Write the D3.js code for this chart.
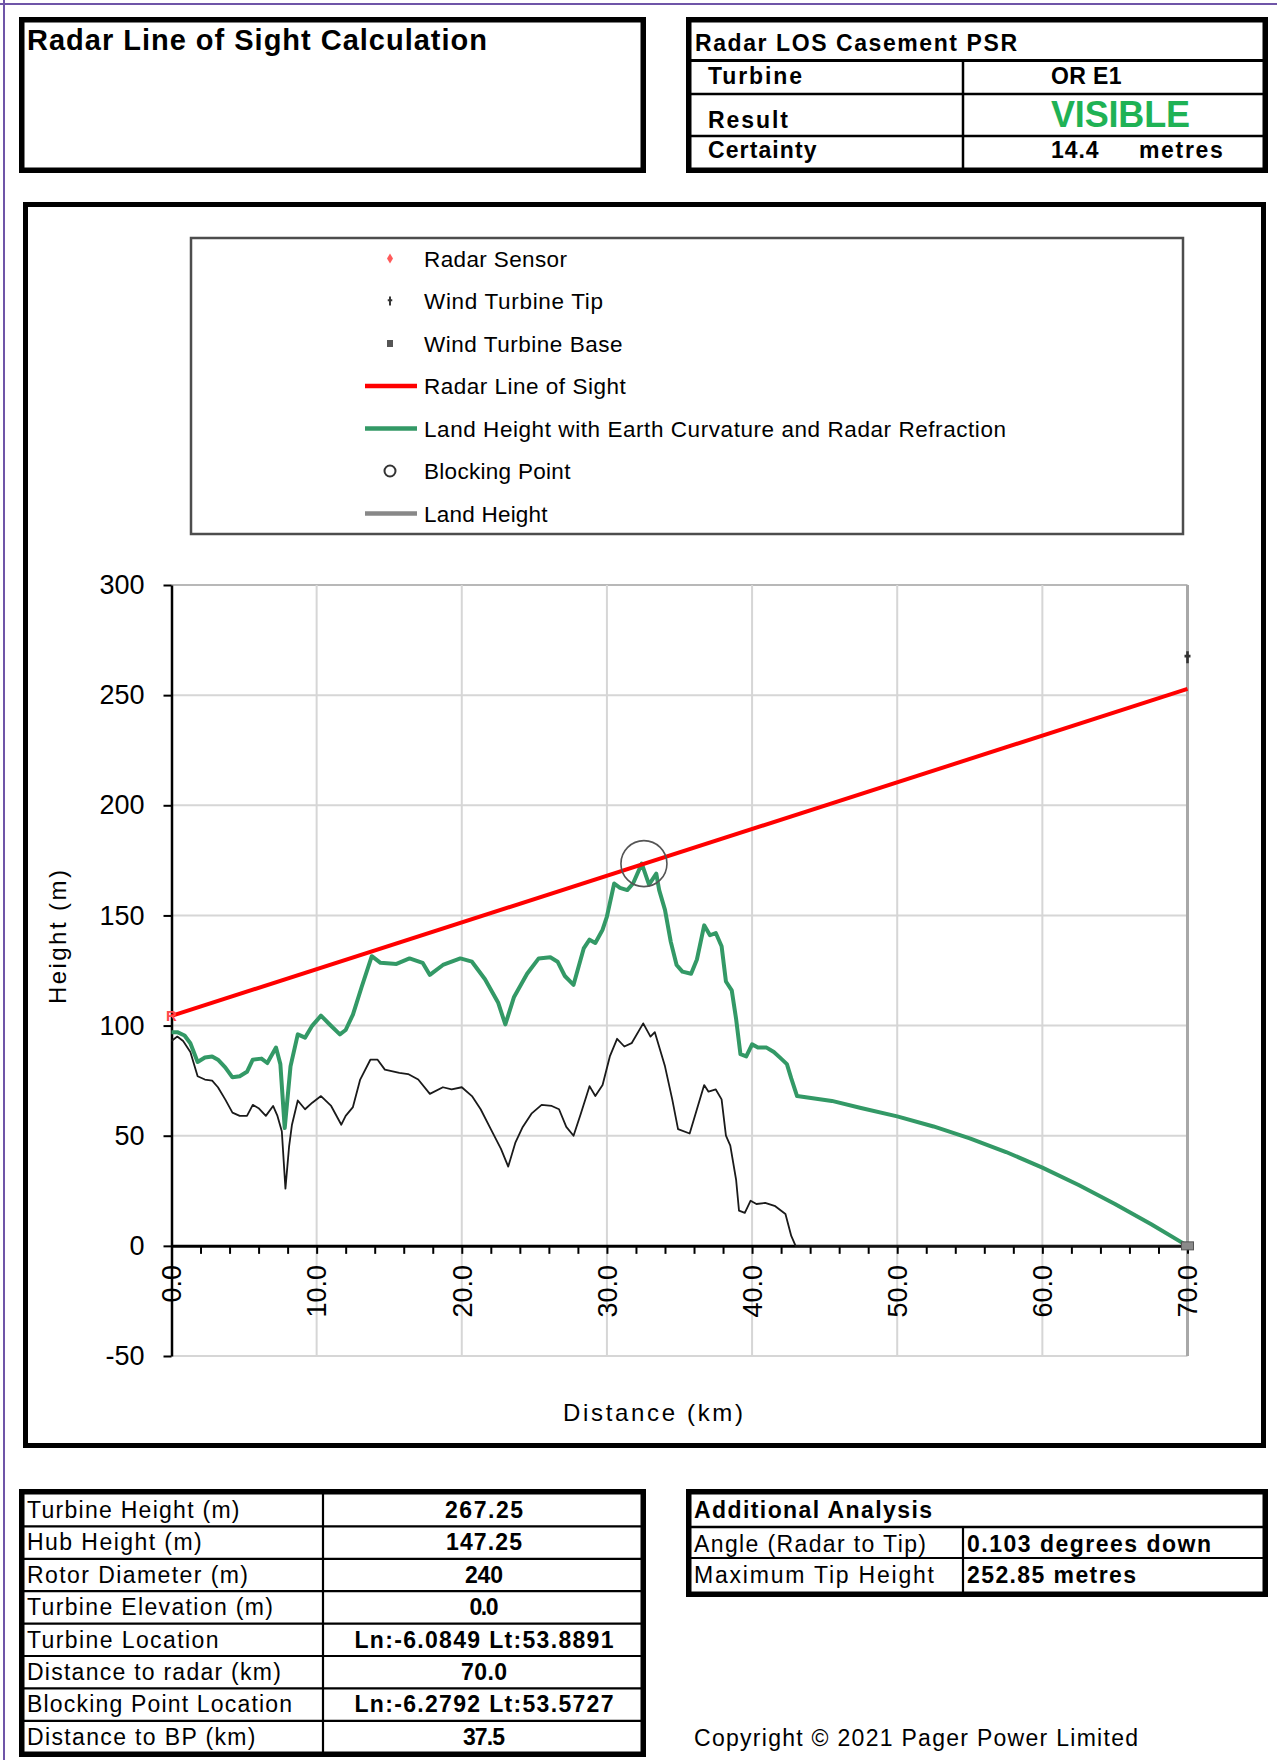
<!DOCTYPE html>
<html><head><meta charset="utf-8"><title>Radar Line of Sight Calculation</title>
<script src="https://cdn.jsdelivr.net/npm/d3@7/dist/d3.min.js"></script>
<style>
html,body{margin:0;padding:0;background:#fff;}
svg{display:block;}
text{font-family:"Liberation Sans",Arial,Helvetica,sans-serif;}
</style></head><body>
<svg id="page" width="1277" height="1760"></svg>
<script>
// ================= DATA =================
const landKm = [0,0.4,0.8,1.3,1.8,2.3,2.8,3.2,3.7,4.2,4.7,5.2,5.6,6.0,6.5,7.0,7.3,7.6,7.85,8.1,8.3,8.7,9.2,9.7,10.3,11.0,11.7,12.0,12.5,13.0,13.7,14.2,14.7,15.7,16.3,17.0,17.8,18.7,19.3,20.0,20.7,21.3,22.0,22.7,23.2,23.7,24.2,24.8,25.5,26.2,26.7,27.2,27.7,28.2,28.8,29.2,29.7,30.2,30.7,31.2,31.7,32.5,33.0,33.3,34.0,34.5,34.9,35.7,36.2,36.7,37.0,37.5,37.9,38.2,38.5,38.9,39.1,39.5,39.9,40.3,40.9,41.6,42.3,42.7,43.0,70.0];
const landM  = [93,95,93,88,77,75.5,75,72,66.5,60.5,59,59,64,62.5,59,63.5,59,52,26,45,55,66,62,65,68,63.5,55,59,63,75.5,84.5,84.5,80,78.5,78,75.5,69,72,71,72,68,62,53,44,36,47,54,60,64,63.5,62,54,50,60,72.5,68,73,86,94,90.5,92,101,95,97,81.5,66.5,53,51,62,73,70,71,66.5,50,45.5,30,16,15,20.5,19,19.5,18,14.5,4.5,0,0];

const curvKm = [0,0.4,0.9,1.3,1.8,2.3,2.8,3.2,3.7,4.2,4.7,5.2,5.6,6.2,6.6,7.2,7.5,7.8,8.2,8.7,9.2,9.7,10.3,10.9,11.6,12.0,12.5,13.1,13.8,14.4,15.5,16.4,17.3,17.8,18.7,19.9,20.7,21.6,22.5,23.0,23.6,24.5,25.3,26.1,26.6,27.1,27.7,28.4,28.8,29.2,29.7,30.0,30.5,30.9,31.4,31.8,32.4,32.9,33.4,33.6,34.0,34.4,34.8,35.2,35.8,36.2,36.7,37.1,37.5,37.9,38.2,38.6,38.9,39.2,39.6,40.0,40.4,41.0,41.5,42.0,42.4,42.7,43.1,45.5,47.5,50,52.5,55,57.5,60,62.5,65,67.5,70];
const curvM  = [97,97,95.5,92,83.5,85.5,86,84.5,81,76.5,77,79,84.5,85,83,90,82.5,53.5,81.5,96,94.5,100,104.5,100.5,96,98,105,117.5,131.5,128.5,128,130.5,128.5,123,127.5,130.5,129,121,110.5,100.5,113,123.5,130.5,131,129,122.5,118.5,135,139,137.5,143.5,149.5,164.5,162.5,161.5,164.5,173.5,164,169,161.5,152.5,138,127.5,124.5,123.5,130,145.5,141,142,136,120,116,103,87,86,91.5,90,90,88,85,82.5,76,68,65.8,62.6,58.8,54.2,48.8,42.6,35.5,27.6,19,9.8,0];

const losKm = [0, 70];
const losM  = [104.4, 252.85];
const radarPoint = [0, 104.4];
const tipPoint = [70, 267.25];
const basePoint = [70, 0];
const blockPoint = [32.55, 173.5];

const xTicks = [0,10,20,30,40,50,60,70];
const xTickLabels = ["0.0","10.0","20.0","30.0","40.0","50.0","60.0","70.0"];
const yTicks = [-50,0,50,100,150,200,250,300];
const yTickLabels = ["-50","0","50","100","150","200","250","300"];
const xTitle = "Distance (km)";
const yTitle = "Height (m)";

const legendLabels = ["Radar Sensor","Wind Turbine Tip","Wind Turbine Base","Radar Line of Sight","Land Height with Earth Curvature and Radar Refraction","Blocking Point","Land Height"];

const titleText = "Radar Line of Sight Calculation";
const infoHeader = "Radar LOS Casement PSR";
const infoLabels = ["Turbine","Result","Certainty"];
const infoValues = ["OR E1","VISIBLE","14.4"];
const certaintyUnit = "metres";

const detailLabels = ["Turbine Height (m)","Hub Height (m)","Rotor Diameter (m)","Turbine Elevation (m)","Turbine Location","Distance to radar (km)","Blocking Point Location","Distance to BP (km)"];
const detailValues = ["267.25","147.25","240","0.0","Ln:-6.0849 Lt:53.8891","70.0","Ln:-6.2792 Lt:53.5727","37.5"];

const addHeader = "Additional Analysis";
const addLabels = ["Angle (Radar to Tip)","Maximum Tip Height"];
const addValues = ["0.103 degrees down","252.85 metres"];
const copyrightText = "Copyright \u00A9 2021 Pager Power Limited";

// ================= LAYOUT / STYLE =================
const C = { red:"#ff0000", green:"#339966", land:"#1a1a1a", grid:"#d6d6d6", purple:"#6f55a8" };
const svg = d3.select("#page");

function rect(x0,y0,x1,y1,sw,stroke){
  svg.append("rect").attr("x",x0+sw/2).attr("y",y0+sw/2)
    .attr("width",x1-x0-sw).attr("height",y1-y0-sw)
    .attr("fill","none").attr("stroke",stroke||"#000").attr("stroke-width",sw);
}
function line(x0,y0,x1,y1,sw,stroke){
  svg.append("line").attr("x1",x0).attr("y1",y0).attr("x2",x1).attr("y2",y1)
    .attr("stroke",stroke||"#000").attr("stroke-width",sw);
}
function txt(x,y,s,o){
  o=o||{};
  const t=svg.append("text").attr("x",x).attr("y",y).text(s)
    .attr("font-size",o.size||21).attr("font-weight",o.bold?"bold":"normal")
    .attr("fill",o.fill||"#000").attr("text-anchor",o.anchor||"start");
  if(o.len) t.attr("textLength",o.len).attr("lengthAdjust","spacing");
  if(o.rot) t.attr("transform",`rotate(${o.rot},${x},${y})`);
  return t;
}

// page border (purple, top & left)
line(0,4,1277,4,2,C.purple);
line(4,0,4,1760,2,C.purple);

// ---- Title box ----
rect(19,17,646,173,5.5);
txt(27,50,titleText,{size:29,bold:true,len:460});

// ---- Info box ----
rect(686,17,1268,173,5.5);
line(689,60.5,1265,60.5,3);
line(689,94,1265,94,2.5);
line(689,136,1265,136,2.5);
line(963,60,963,170,2.5);
txt(695,51,infoHeader,{size:23,bold:true,len:322});
const infoBase=[84,127.5,157.5];
const infoLabelLen=[94,80,108.5];
infoLabels.forEach((s,i)=>txt(708,infoBase[i],s,{size:23,bold:true,len:infoLabelLen[i]}));
txt(1051,84,infoValues[0],{size:23,bold:true,len:70.5});
txt(1051,126.5,infoValues[1],{size:36,bold:true,fill:"#1fb255",len:139});
txt(1051,157.5,infoValues[2],{size:23,bold:true,len:47.6});
txt(1139,157.5,certaintyUnit,{size:23,bold:true,len:83.8});

// ---- Chart frame ----
rect(23,202,1266,1448,5);
// legend box
svg.append("rect").attr("x",191).attr("y",238).attr("width",992).attr("height",296)
  .attr("fill","none").attr("stroke","#4d4d4d").attr("stroke-width",2.5);

// scales
const x = d3.scaleLinear().domain([0,70]).range([171.5,1187.5]);
const y = d3.scaleLinear().domain([-50,300]).range([1356,585]);

const plot = svg.append("g");
// gridlines
plot.selectAll("line.hg").data(yTicks.filter(v=>v!==0)).enter().append("line")
  .attr("x1",x(0)).attr("x2",x(70)).attr("y1",d=>y(d)).attr("y2",d=>y(d))
  .attr("stroke",d=>d===300?"#b8b8b8":C.grid).attr("stroke-width",2);
plot.selectAll("line.vg").data(xTicks.filter(v=>v>0&&v<70)).enter().append("line")
  .attr("y1",y(300)).attr("y2",y(-50)).attr("x1",d=>x(d)).attr("x2",d=>x(d))
  .attr("stroke",C.grid).attr("stroke-width",2);
// right border of plot area
line(x(70),y(300),x(70),y(-50),3,"#a8a8a8");

// axes
const yAxis = d3.axisLeft(y).tickValues(yTicks).tickSize(8).tickSizeOuter(0).tickPadding(19)
  .tickFormat((d,i)=>yTickLabels[i]);
const gy = svg.append("g").attr("transform",`translate(${x(0)},0)`).call(yAxis);
gy.select(".domain").attr("stroke","#000").attr("stroke-width",2.5);
gy.selectAll(".tick line").attr("stroke","#000").attr("stroke-width",2);
gy.selectAll(".tick text").attr("font-size",27).attr("fill","#000")
  .attr("font-family","'Liberation Sans',Arial,sans-serif");

const minorTicks = d3.range(0,70.01,2);
const xAxis = d3.axisBottom(x).tickValues(minorTicks).tickSize(8).tickSizeOuter(0).tickFormat("");
const gx = svg.append("g").attr("transform",`translate(0,${y(0)})`).call(xAxis);
gx.select(".domain").attr("stroke","#000").attr("stroke-width",3);
gx.selectAll(".tick line").attr("stroke","#000").attr("stroke-width",2);
// rotated major labels
svg.append("g").selectAll("text").data(xTicks).enter().append("text")
  .attr("transform",d=>`translate(${x(d)},${y(0)+19}) rotate(-90)`)
  .attr("text-anchor","end").attr("dy","0.36em").attr("font-size",27)
  .text((d,i)=>xTickLabels[i]);

// axis titles
txt(653,1421,xTitle,{size:24,anchor:"middle",len:180});
txt(66,937,yTitle,{size:24,anchor:"middle",len:134,rot:-90});

// series
const lineGen = d3.line().x(d=>x(d[0])).y(d=>y(d[1]));
const landPts = landKm.map((k,i)=>[k,landM[i]]);
const curvPts = curvKm.map((k,i)=>[k,curvM[i]]);
const losPts = losKm.map((k,i)=>[k,losM[i]]);
svg.append("path").attr("d",lineGen(landPts)).attr("fill","none")
  .attr("stroke",C.land).attr("stroke-width",1.8).attr("stroke-linejoin","round");
svg.append("path").attr("d",lineGen(curvPts)).attr("fill","none")
  .attr("stroke",C.green).attr("stroke-width",4).attr("stroke-linejoin","round");
svg.append("path").attr("d",lineGen(losPts)).attr("fill","none")
  .attr("stroke",C.red).attr("stroke-width",4);

// blocking point circle
svg.append("circle").attr("cx",x(blockPoint[0])).attr("cy",y(blockPoint[1])).attr("r",23)
  .attr("fill","none").attr("stroke","#555").attr("stroke-width",1.6);
// radar sensor marker "R"
svg.append("text").attr("x",x(radarPoint[0])).attr("y",y(radarPoint[1])).attr("dy","0.36em")
  .attr("text-anchor","middle").attr("font-size",15).attr("font-weight","bold")
  .attr("fill","#ff4a4a").text("R");
// turbine tip marker
function tipGlyph(cx,cy,s){
  svg.append("path").attr("d",`M${cx},${cy-6*s}V${cy+6*s}M${cx-3*s},${cy-1*s}H${cx+3*s}`)
    .attr("stroke","#333").attr("stroke-width",2.6*s).attr("fill","none");
}
tipGlyph(x(tipPoint[0]),y(tipPoint[1]),1);
// turbine base marker
svg.append("rect").attr("x",x(basePoint[0])-6).attr("y",y(basePoint[1])-4).attr("width",12).attr("height",8)
  .attr("fill","#8a8a8a").attr("stroke","#555").attr("stroke-width",1);

// ---- Legend ----
const legTop=258.5, legStep=42.5, legSymX=390, legTextX=424;
const legendTextLen=[143,179,198.5,201.7,582,146.4,123.6];
legendLabels.forEach((s,i)=>{
  const cy=legTop+i*legStep;
  txt(legTextX,cy+8,s,{size:22.5,len:legendTextLen[i]});
});
(function(){
  let cy=legTop;
  svg.append("path").attr("d",`M${legSymX},${cy-5}L${legSymX+3},${cy}L${legSymX},${cy+5}L${legSymX-3},${cy}Z`)
    .attr("fill","#ff5a5a");
  cy=legTop+legStep; tipGlyph(legSymX,cy,0.75);
  cy=legTop+2*legStep;
  svg.append("rect").attr("x",legSymX-3).attr("y",cy-3.5).attr("width",6).attr("height",7).attr("fill","#555");
  cy=legTop+3*legStep; line(365,cy,417,cy,4.5,C.red);
  cy=legTop+4*legStep; line(365,cy,417,cy,4.5,C.green);
  cy=legTop+5*legStep;
  svg.append("circle").attr("cx",legSymX).attr("cy",cy).attr("r",5.5).attr("fill","none")
    .attr("stroke","#333").attr("stroke-width",2);
  cy=legTop+6*legStep; line(365,cy,417,cy,4.5,"#888");
})();

// ---- Details table (bottom left) ----
rect(19,1489,646,1757,5.5);
const dTop=1494, dStep=32.4;
for(let i=1;i<8;i++) line(22,dTop+i*dStep,643,dTop+i*dStep,2.2);
line(323,1492,323,1754,2.2);
const detailLabelLen=[212.5,174.7,221,246,191.5,253.8,265,228.5];
const detailValueLen=[78,76,38,29,259,46,259,42];
detailLabels.forEach((s,i)=>txt(27,dTop+i*dStep+24,s,{size:23,len:detailLabelLen[i]}));
detailValues.forEach((s,i)=>txt(484,dTop+i*dStep+24,s,{size:23,bold:true,anchor:"middle",len:detailValueLen[i]}));

// ---- Additional analysis (bottom right) ----
rect(686,1489,1268,1597,5.5);
line(689,1527,1265,1527,2.5);
line(689,1558,1265,1558,2.2);
line(963,1527,963,1592,2.2);
txt(694,1518,addHeader,{size:23,bold:true,len:238});
const addLabelLen=[232,240], addValueLen=[244,169];
addLabels.forEach((s,i)=>txt(694,1551.5+i*31,s,{size:23,len:addLabelLen[i]}));
addValues.forEach((s,i)=>txt(967,1551.5+i*31,s,{size:23,bold:true,len:addValueLen[i]}));

// copyright
txt(694,1746,copyrightText,{size:23,len:444});
</script>
</body></html>
